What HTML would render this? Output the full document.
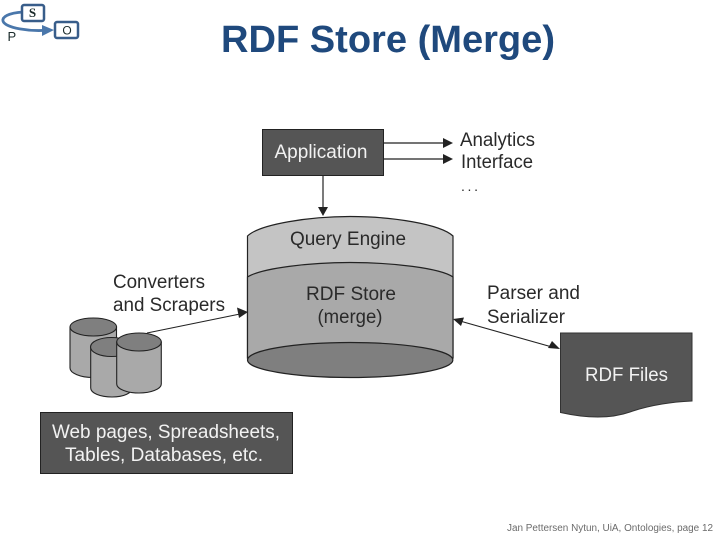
<!DOCTYPE html>
<html><head><meta charset="utf-8"><style>html,body{margin:0;padding:0;background:#fff}svg{display:block}text{font-family:"Liberation Sans",sans-serif}</style></head><body>
<svg width="720" height="540" viewBox="0 0 720 540" xmlns="http://www.w3.org/2000/svg">
<defs><filter id="b" x="-5%" y="-5%" width="110%" height="110%"><feGaussianBlur stdDeviation="0.35"/></filter></defs>
<rect width="720" height="540" fill="#fff"/>
<!-- SPO icon -->
<g fill="none" stroke="#385d8a" stroke-width="2.500">
<path d="M23 12 C8 13 2 17 3 21 C5 28 30 32 50 30" stroke-width="2.800" stroke="#4a77ab"/>
<path d="M42 25 L54 30 L42 36 Z" fill="#4a77ab" stroke="none"/>
<rect x="22" y="5" width="22" height="16" rx="2" fill="#fff"/>
<rect x="55" y="22" width="23" height="16" rx="2" fill="#fff"/>
</g>
<text x="32.500" y="17" font-size="13" text-anchor="middle" fill="#1a2a2a" style="font-family:'Liberation Serif',serif" font-weight="bold">S</text>
<text x="67" y="34.500" font-size="12" text-anchor="middle" fill="#1a2a2a">O</text>
<text x="7.500" y="41" font-size="13" fill="#1a2a2a" text-anchor="start">P</text>
<!-- Title -->
<text x="221" y="52" font-size="38" font-weight="bold" fill="#1f497d" textLength="334" lengthAdjust="spacingAndGlyphs">RDF Store (Merge)</text>
<g filter="url(#b)">
<!-- Application -->
<rect x="262.500" y="129.500" width="121" height="46" fill="#555" stroke="#222"/>
<text x="321" y="158" font-size="19" fill="#f2f2f2" text-anchor="middle" textLength="93" lengthAdjust="spacingAndGlyphs">Application</text>
<g stroke="#222" stroke-width="1.200" fill="#222">
<path d="M384 143H446M384 159H446" fill="none"/>
<path d="M443 138 L453 143 L443 148Z M443 154 L453 159 L443 164Z" stroke="none"/>
<path d="M323 175V208" fill="none"/>
<path d="M318 207 L323 216 L328 207Z" stroke="none"/>
</g>
<g font-size="19" fill="#2a2a2a">
<text x="460" y="146" textLength="75" lengthAdjust="spacingAndGlyphs">Analytics</text>
<text x="461" y="168" textLength="72" lengthAdjust="spacingAndGlyphs">Interface</text>
<text x="461" y="191" font-size="14" textLength="17" lengthAdjust="spacing">...</text>
</g>
<!-- Main cylinder -->
<path d="M247.500 358 V236 C260 224 310 216.500 350 216.500 C392 216.500 440 224 453 236 V358 Z" fill="#c4c4c4" stroke="#222" stroke-width="1.200"/>
<path d="M247.500 358 V277 C262 268 310 262.500 350 262.500 C392 262.500 440 268 453 277 V358 Z" fill="#a9a9a9" stroke="#222" stroke-width="1.200"/>
<ellipse cx="350.200" cy="360" rx="102.700" ry="17.500" fill="#7f7f7f" stroke="#222" stroke-width="1.200"/>
<g font-size="19" fill="#2a2a2a" text-anchor="middle">
<text x="348" y="245" textLength="116" lengthAdjust="spacingAndGlyphs">Query Engine</text>
<text x="351" y="300" textLength="90" lengthAdjust="spacingAndGlyphs">RDF Store</text>
<text x="350" y="323" textLength="65" lengthAdjust="spacingAndGlyphs">(merge)</text>
</g>
<!-- Small cylinders -->
<g stroke="#222" stroke-width="1.100">
<path d="M70 327V368C70 373 80 377.500 93 377.500C106 377.500 116.500 373 116.500 368V327Z" fill="#a9a9a9"/>
<ellipse cx="93.300" cy="327" rx="23.300" ry="9" fill="#7f7f7f"/>
<path d="M90.700 347V388C90.700 393 100 397 112 397C124 397 132 393 132 388V347Z" fill="#a9a9a9"/>
<ellipse cx="111.500" cy="347" rx="21" ry="9.500" fill="#7f7f7f"/>
<path d="M116.700 342V384C116.700 389 127 393 139 393C151 393 161.300 389 161.300 384V342Z" fill="#a9a9a9"/>
<ellipse cx="139" cy="342" rx="22.300" ry="9" fill="#7f7f7f"/>
</g>
<g stroke="#222" stroke-width="1.100" fill="#222">
<path d="M147 333L240 314" fill="none"/>
<path d="M237 307.500L248 312L239 318Z" stroke="none"/>
<path d="M460 321L552 347" fill="none"/>
<path d="M453 319L464 317.500L461 326Z M560 349L548 348L552 341Z" stroke="none"/>
</g>
<g font-size="19" fill="#2a2a2a">
<text x="113" y="288" textLength="92" lengthAdjust="spacingAndGlyphs">Converters</text>
<text x="113" y="311" textLength="112" lengthAdjust="spacingAndGlyphs">and Scrapers</text>
<text x="487" y="299" textLength="93" lengthAdjust="spacingAndGlyphs">Parser and</text>
<text x="487" y="323" textLength="78" lengthAdjust="spacingAndGlyphs">Serializer</text>
</g>
<!-- Web pages box -->
<rect x="40.500" y="412.500" width="252" height="61" fill="#555" stroke="#222"/>
<g font-size="19" fill="#f2f2f2">
<text x="52" y="438" textLength="228" lengthAdjust="spacingAndGlyphs">Web pages, Spreadsheets,</text>
<text x="65" y="461" textLength="198" lengthAdjust="spacingAndGlyphs">Tables, Databases, etc.</text>
</g>
<!-- RDF files -->
<path d="M560.500 333H692V401C670 402 650 405 630 412C610 419 585 418 560.500 412.500Z" fill="#555" stroke="#333"/>
<text x="585" y="381" font-size="19" fill="#f2f2f2" textLength="83" lengthAdjust="spacingAndGlyphs">RDF Files</text>
</g>
<text x="507" y="531" font-size="10" fill="#6b6b6b" textLength="206" lengthAdjust="spacingAndGlyphs">Jan Pettersen Nytun, UiA, Ontologies, page 12</text>
</svg>
</body></html>
